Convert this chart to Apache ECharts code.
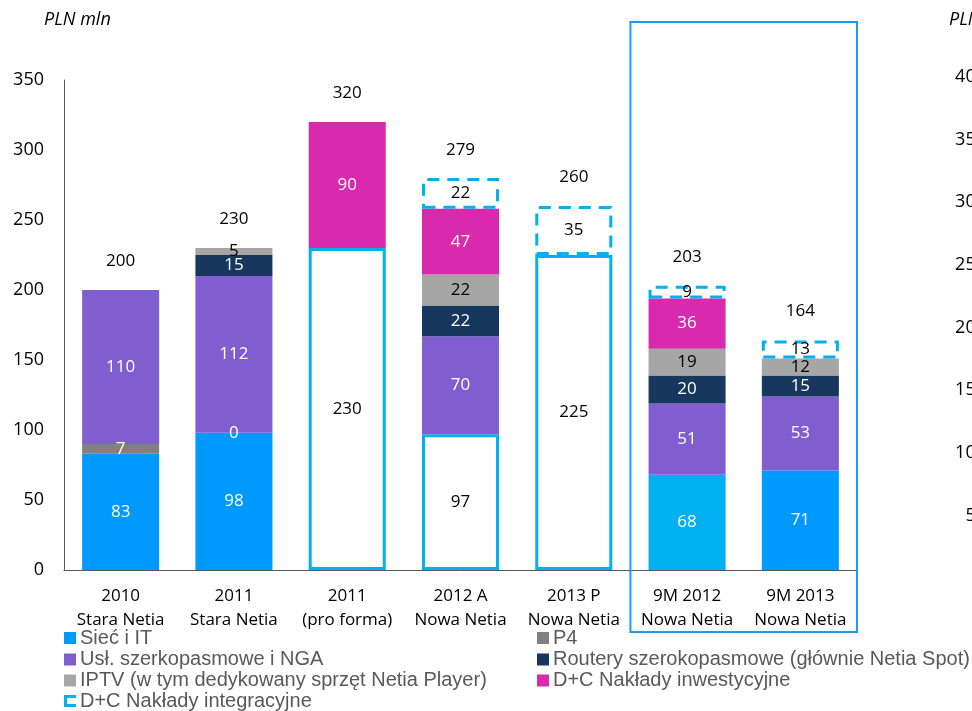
<!DOCTYPE html>
<html><head><meta charset="utf-8">
<script src="https://cdn.jsdelivr.net/npm/echarts@6/dist/echarts.min.js"></script>
<style>html,body{margin:0;padding:0;background:#fff}#c{width:972px;height:711px}</style>
</head><body><div id="c"></div>
<script>
const categories = ['2010\nStara Netia','2011\nStara Netia','2011\n(pro forma)','2012 A\nNowa Netia','2013 P\nNowa Netia','9M 2012\nNowa Netia','9M 2013\nNowa Netia'];
const siecIT      = [83, 98, null, null, null, 68, 71];
const baseWhite   = [null, null, 230, 97, 225, null, null];
const p4          = [7, 0, null, null, null, null, null];
const uslSzerok   = [110, 112, null, 70, null, 51, 53];
const routery     = [null, 15, null, 22, null, 20, 15];
const iptv        = [null, 5, null, 22, null, 19, 12];
const dcInwest    = [null, null, 90, 47, null, 36, null];
const dcIntegr    = [null, null, null, 22, 35, 9, 13];
const totals      = [200, 230, 320, 279, 260, 203, 164];
const rightTicksMax = 400;

const FONT = '"Open Sans", sans-serif';
const LFONT = '"Liberation Sans", Arial, sans-serif';
const lbl = (color) => ({show: true, position: 'inside', color: color, fontSize: 17, fontFamily: FONT});

const N_SIEC = 'Sieć i IT', N_P4 = 'P4', N_USL = 'Usł. szerkopasmowe i NGA',
      N_ROUT = 'Routery szerokopasmowe (głównie Netia Spot)', N_IPTV = 'IPTV (w tym dedykowany sprzęt Netia Player)',
      N_INW = 'D+C Nakłady inwestycyjne', N_INT = 'D+C Nakłady integracyjne';

const legendItems = [
  {name: N_SIEC, left: 64, row: 0}, {name: N_USL, left: 64, row: 1}, {name: N_IPTV, left: 64, row: 2},
  {name: N_INT, left: 64, row: 3, icon: 'path://M0,0 H10 V2.6 H2.6 V7.4 H10 V10 H0 Z'},
  {name: N_P4, left: 537, row: 0}, {name: N_ROUT, left: 537, row: 1}, {name: N_INW, left: 537, row: 2}
];
const rowCenters = [638, 659.5, 680.5, 701];

const dashedStyle = {color: '#fff', borderColor: '#00B0F0', borderWidth: 3, borderType: [12, 8]};

const chart = echarts.init(document.getElementById('c'));
const option = {
  animation: false,
  title: [
    {text: 'PLN mln', left: 44, top: 11, padding: 0, textStyle: {fontFamily: FONT, fontStyle: 'italic', fontWeight: 'normal', fontSize: 18, color: '#000'}},
    {text: 'PLN mln', left: 949, top: 11, padding: 0, textStyle: {fontFamily: FONT, fontStyle: 'italic', fontWeight: 'normal', fontSize: 18, color: '#000'}}
  ],
  grid: [
    {left: 64, right: 115, top: 80, bottom: 141},
    {left: 995, width: 200, top: 77, bottom: 133}
  ],
  legend: legendItems.map(it => ({
    orient: 'horizontal', left: it.left, top: rowCenters[it.row] - 10, padding: 0,
    itemWidth: 12, itemHeight: 12, itemGap: 0, icon: 'rect',
    textStyle: {fontFamily: LFONT, fontSize: 20, color: '#595959', lineHeight: 20, padding: [0, 0, 0, -1]},
    data: [it.icon ? {name: it.name, icon: it.icon, itemStyle: {color: '#00B0F0', borderWidth: 0}} : it.name]
  })),
  xAxis: [
    {type: 'category', gridIndex: 0, data: categories,
     axisLine: {lineStyle: {color: '#595959', width: 1}}, axisTick: {show: false},
     axisLabel: {color: '#000', fontFamily: FONT, fontSize: 17, lineHeight: 24, margin: 14, interval: 0}},
    {type: 'category', gridIndex: 1, data: ['a'], show: false}
  ],
  yAxis: [
    {type: 'value', gridIndex: 0, min: 0, max: 350, interval: 50, splitLine: {show: false},
     axisLine: {show: true, lineStyle: {color: '#595959', width: 1}}, axisTick: {show: false},
     axisLabel: {color: '#000', fontFamily: FONT, fontSize: 18, margin: 20}},
    {type: 'value', gridIndex: 1, min: 0, max: rightTicksMax, interval: 50, splitLine: {show: false},
     axisLine: {show: false}, axisTick: {show: false},
     axisLabel: {color: '#000', fontFamily: FONT, fontSize: 18, margin: 9}}
  ],
  series: [
    {name: N_SIEC, type: 'bar', stack: 's', barWidth: '68%', itemStyle: {color: '#0099FF'}, label: lbl('#fff'),
     data: siecIT.map((v, i) => i === 5 ? {value: v, itemStyle: {color: '#00B0F0'}} : v)},
    {name: 'base', type: 'bar', stack: 's', itemStyle: {color: '#fff', borderColor: '#00B0F0', borderWidth: 3}, label: lbl('#000'), data: baseWhite},
    {name: N_P4, type: 'bar', stack: 's', itemStyle: {color: '#808080'}, label: lbl('#fff'), data: p4},
    {name: N_USL, type: 'bar', stack: 's', itemStyle: {color: '#805ECF'}, label: lbl('#fff'), data: uslSzerok},
    {name: N_ROUT, type: 'bar', stack: 's', itemStyle: {color: '#17375E'}, label: lbl('#fff'), data: routery},
    {name: N_IPTV, type: 'bar', stack: 's', itemStyle: {color: '#A6A6A6'}, label: lbl('#000'), data: iptv},
    {name: N_INW, type: 'bar', stack: 's', itemStyle: {color: '#D92AAE'}, label: lbl('#fff'), data: dcInwest},
    {name: N_INT, type: 'bar', stack: 's', z: 3, itemStyle: {color: '#00B0F0'},
     label: lbl('#000'), data: dcIntegr.map(v => v == null ? null : {value: v, itemStyle: dashedStyle})},
    {name: 'totals', type: 'scatter', symbol: 'rect', symbolSize: 1, silent: true, z: 5,
     itemStyle: {color: 'rgba(0,0,0,0)', opacity: 1},
     label: {show: true, position: 'top', distance: 20, color: '#000', fontSize: 17, fontFamily: FONT, formatter: p => totals[p.dataIndex]},
     data: totals},
    {name: 'right', type: 'bar', xAxisIndex: 1, yAxisIndex: 1, data: []}
  ]
};
chart.setOption(option);
const xa = chart.convertToPixel({xAxisIndex: 0}, categories[5]);
const xb = chart.convertToPixel({xAxisIndex: 0}, categories[6]);
const band = xb - xa;
chart.setOption({graphic: [{type: 'rect', shape: {x: xa - band / 2, y: 22, width: band * 2, height: 610},
  style: {fill: 'none', stroke: '#1E9BF0', lineWidth: 2}, z: 10}]});
</script></body></html>
